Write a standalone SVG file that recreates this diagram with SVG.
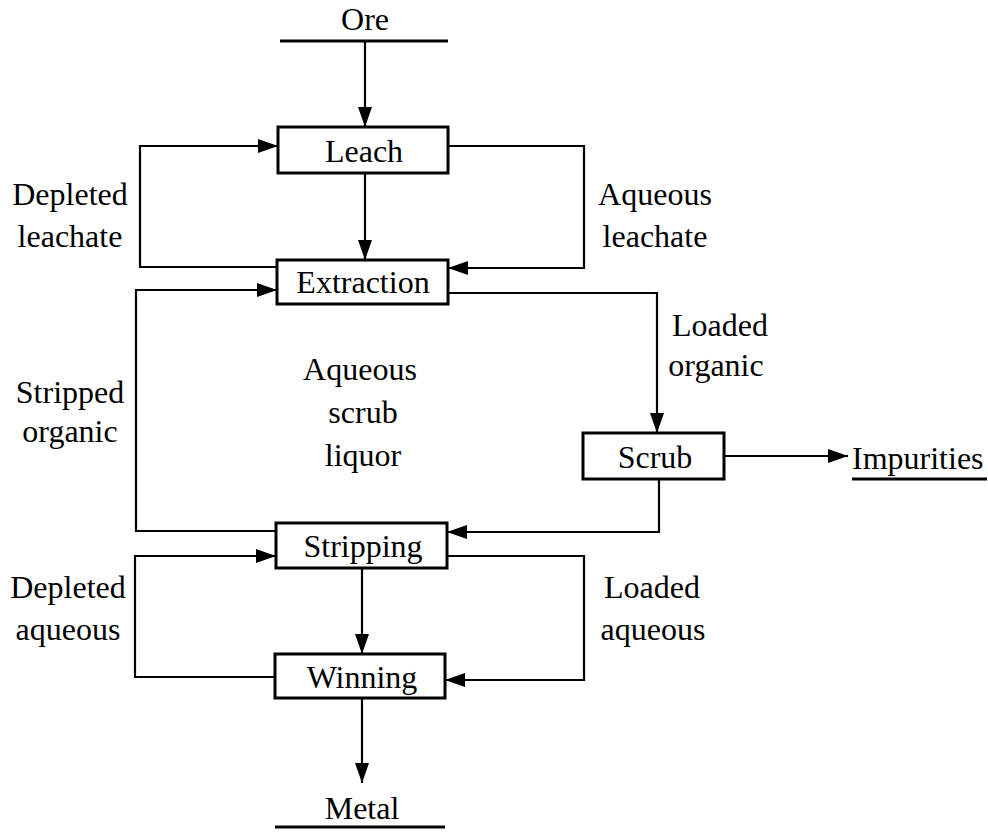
<svg xmlns="http://www.w3.org/2000/svg" width="988" height="832" viewBox="0 0 988 832">
<style>
text{font-family:"Liberation Serif","Times New Roman",serif;font-size:32px;fill:#000}
.c{text-anchor:middle}
.box{fill:#fff;stroke:#000;stroke-width:3}
.ln{fill:none;stroke:#000;stroke-width:2.2}
.ul{stroke:#000;stroke-width:3}
</style>
<defs>
<marker id="ah" markerUnits="userSpaceOnUse" markerWidth="20" markerHeight="14" refX="20" refY="7" orient="auto">
<path d="M0,0 L20,7 L0,14 z" fill="#000"/>
</marker>
</defs>
<rect width="988" height="832" fill="#fff"/>
<g id="connectors">
<path class="ln" d="M365,42 V127" marker-end="url(#ah)"/>
<path class="ln" d="M365,173 V260" marker-end="url(#ah)"/>
<path class="ln" d="M278,267 H140 V146 H278" marker-end="url(#ah)"/>
<path class="ln" d="M448,146 H584 V268 H448" marker-end="url(#ah)"/>
<path class="ln" d="M276,531 H136 V290 H277" marker-end="url(#ah)"/>
<path class="ln" d="M448,293 H657 V433" marker-end="url(#ah)"/>
<path class="ln" d="M724,456 H848" marker-end="url(#ah)"/>
<path class="ln" d="M659,479 V532 H447" marker-end="url(#ah)"/>
<path class="ln" d="M275,677 H135 V556 H276" marker-end="url(#ah)"/>
<path class="ln" d="M447,556 H584 V680 H445" marker-end="url(#ah)"/>
<path class="ln" d="M362,568 V654" marker-end="url(#ah)"/>
<path class="ln" d="M362,698 V783" marker-end="url(#ah)"/>
</g>
<g id="ore">
<text class="c" x="365" y="30">Ore</text>
<line class="ul" x1="280" y1="41" x2="448" y2="41"/>
</g>
<g id="leach">
<rect class="box" x="278" y="127" width="170" height="46"/>
<text class="c" x="364" y="162">Leach</text>
</g>
<g id="extraction">
<rect class="box" x="277" y="260" width="171" height="44"/>
<text class="c" x="363" y="293">Extraction</text>
</g>
<g id="scrub">
<rect class="box" x="583" y="433" width="141" height="46"/>
<text class="c" x="655" y="468">Scrub</text>
</g>
<g id="impurities">
<text x="852" y="469">Impurities</text>
<line class="ul" x1="852" y1="479" x2="987" y2="479"/>
</g>
<g id="stripping">
<rect class="box" x="276" y="523" width="171" height="45"/>
<text class="c" x="363" y="557">Stripping</text>
</g>
<g id="winning">
<rect class="box" x="275" y="654" width="170" height="44"/>
<text class="c" x="362" y="688">Winning</text>
</g>
<g id="metal">
<text class="c" x="362" y="819">Metal</text>
<line class="ul" x1="275" y1="827" x2="445" y2="827"/>
</g>
<g id="labels">
<text class="c" x="70" y="205">Depleted</text>
<text class="c" x="70" y="247">leachate</text>
<text class="c" x="655" y="205">Aqueous</text>
<text class="c" x="655" y="247">leachate</text>
<text class="c" x="720" y="336">Loaded</text>
<text class="c" x="716" y="376">organic</text>
<text class="c" x="70" y="403">Stripped</text>
<text class="c" x="70" y="442">organic</text>
<text class="c" x="360" y="380">Aqueous</text>
<text class="c" x="363" y="423">scrub</text>
<text class="c" x="363" y="466">liquor</text>
<text class="c" x="68" y="598">Depleted</text>
<text class="c" x="68" y="640">aqueous</text>
<text class="c" x="652" y="598">Loaded</text>
<text class="c" x="653" y="640">aqueous</text>
</g>
</svg>
